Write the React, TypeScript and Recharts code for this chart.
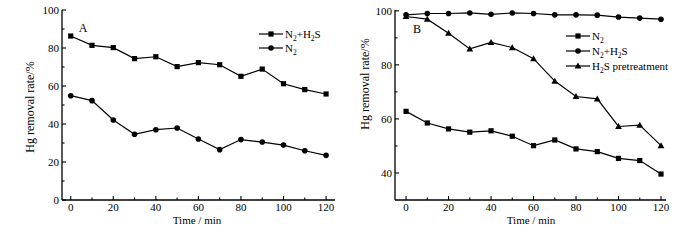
import React from "react"
import { LineChart, Line, XAxis, YAxis } from "recharts"

const TIMES = [0, 10, 20, 30, 40, 50, 60, 70, 80, 90, 100, 110, 120]

// panel A
const A_N2H2S = [86.3, 81.4, 80.2, 74.4, 75.4, 70.2, 72.3, 71.2, 65.1, 68.9, 61.2, 58.1, 55.8]
const A_N2 = [54.9, 52.3, 42.1, 34.6, 37.0, 37.9, 32.1, 26.5, 31.8, 30.5, 28.9, 25.9, 23.5]

// panel B
const B_N2 = [62.8, 58.5, 56.3, 55.1, 55.6, 53.6, 50.1, 52.2, 48.9, 47.9, 45.4, 44.6, 39.6]
const B_N2H2S = [98.5, 99.0, 99.0, 99.2, 98.7, 99.2, 99.0, 98.5, 98.5, 98.4, 97.7, 97.3, 96.9]
const B_PRE = [97.9, 96.9, 91.7, 85.9, 88.3, 86.4, 82.3, 74.0, 68.3, 67.4, 57.2, 57.7, 50.1]

const A_Y_TICKS = [0, 10, 20, 30, 40, 50, 60, 70, 80, 90, 100]
const B_Y_TICKS = [40, 50, 60, 70, 80, 90, 100]

const dataA = TIMES.map((t, i) => ({ t, a: A_N2H2S[i], b: A_N2[i] }))
const dataB = TIMES.map((t, i) => ({ t, a: B_N2[i], b: B_N2H2S[i], c: B_PRE[i] }))

const FONT = "'Liberation Serif', 'Times New Roman', serif"
const AXIS = { stroke: "#000", strokeWidth: 1.3 }
const TXT = { fontFamily: FONT, fill: "#000", stroke: "none", fontWeight: 400 }

function XTick(props: any) {
  const { x, y, payload } = props
  const v = payload.value
  const major = v % 20 === 0
  return (
    <g>
      <line x1={x} x2={x} y1={y} y2={y - (major ? 4 : 2.5)} stroke="#000" strokeWidth={1.1} />
      {major && (
        <text x={x} y={y + 11} textAnchor="middle" fontSize={11} {...TXT}>
          {v}
        </text>
      )}
    </g>
  )
}

function YTick(props: any) {
  const { x, y, payload } = props
  const v = payload.value
  const major = v % 20 === 0
  return (
    <g>
      <line x1={x} x2={x + (major ? 4 : 2.5)} y1={y} y2={y} stroke="#000" strokeWidth={1.1} />
      {major && (
        <text x={x - 3} y={y + 4} textAnchor="end" fontSize={11} {...TXT}>
          {v}
        </text>
      )}
    </g>
  )
}

const Square = (p: any) =>
  p.cx == null ? null : <rect x={p.cx - 2.6} y={p.cy - 2.6} width={5.2} height={5.2} fill="#000" stroke="none" />
const Circle = (p: any) =>
  p.cx == null ? null : <circle cx={p.cx} cy={p.cy} r={2.8} fill="#000" stroke="none" />
const Triangle = (p: any) =>
  p.cx == null ? null : (
    <polygon
      points={`${p.cx},${p.cy - 3.4} ${p.cx - 3.4},${p.cy + 2.6} ${p.cx + 3.4},${p.cy + 2.6}`}
      fill="#000"
      stroke="none"
    />
  )

function YTitle(cx: number, cy: number) {
  return () => (
    <text x={cx} y={cy} transform={`rotate(-90 ${cx} ${cy})`} textAnchor="middle" fontSize={12} {...TXT}>
      Hg removal rate/%
    </text>
  )
}

function XTitle(cx: number, cy: number) {
  return () => (
    <text x={cx} y={cy} textAnchor="middle" fontSize={11} {...TXT}>
      Time / min
    </text>
  )
}

function Sub({ parts }: { parts: (string | [string])[] }) {
  // plain strings are normal text, [s] is a subscript
  let low = false
  return (
    <>
      {parts.map((p, i) => {
        if (Array.isArray(p)) {
          const el = (
            <tspan key={i} fontSize={7.5} dy={low ? 0 : 3}>
              {p[0]}
            </tspan>
          )
          low = true
          return el
        }
        const el = (
          <tspan key={i} dy={low ? -3 : 0}>
            {p}
          </tspan>
        )
        low = false
        return el
      })}
    </>
  )
}

function LegendRow({ x, y, marker, parts }: { x: number; y: number; marker: string; parts: any[] }) {
  const mx = x + 12
  return (
    <g>
      <line x1={x} x2={x + 24} y1={y} y2={y} stroke="#000" strokeWidth={1.2} />
      {marker === "s" && <Square cx={mx} cy={y} />}
      {marker === "c" && <Circle cx={mx} cy={y} />}
      {marker === "t" && <Triangle cx={mx} cy={y} />}
      <text x={x + 26} y={y + 4} fontSize={11} {...TXT}>
        <Sub parts={parts} />
      </text>
    </g>
  )
}

export default function App() {
  return (
    <div style={{ position: "absolute", left: 0, top: 0, width: 700, height: 240, background: "#fff" }}>
      <div style={{ position: "absolute", left: 0, top: 0 }}>
        <LineChart width={350} height={240} data={dataA} margin={{ top: 10, right: 15, left: 0, bottom: 0 }}>
          <XAxis
            dataKey="t"
            type="number"
            domain={[-4.1, 124.2]}
            ticks={TIMES}
            interval={0}
            height={40}
            tickSize={0}
            tickMargin={0}
            tick={XTick}
            tickLine={false}
            axisLine={AXIS}
            label={{ content: XTitle(197, 224) }}
          />
          <XAxis xAxisId="top" dataKey="t" type="number" orientation="top" domain={[-4.1, 124.2]} height={0} tick={false} tickLine={false} axisLine={AXIS} />
          <YAxis
            type="number"
            domain={[0, 100]}
            ticks={A_Y_TICKS}
            interval={0}
            width={62}
            tickSize={0}
            tickMargin={0}
            tick={YTick}
            tickLine={false}
            axisLine={AXIS}
            label={{ content: YTitle(34, 107) }}
          />
          <YAxis yAxisId="right" orientation="right" width={0} tick={false} tickLine={false} axisLine={AXIS} />
          <Line dataKey="a" stroke="#000" strokeWidth={1.2} dot={Square} isAnimationActive={false} />
          <Line dataKey="b" stroke="#000" strokeWidth={1.2} dot={Circle} isAnimationActive={false} />
        </LineChart>
      </div>
      <div style={{ position: "absolute", left: 350, top: 0 }}>
        <LineChart width={350} height={240} data={dataB} margin={{ top: 10, right: 34, left: 0, bottom: 0 }}>
          <XAxis
            dataKey="t"
            type="number"
            domain={[-5.2, 122.35]}
            ticks={TIMES}
            interval={0}
            height={40}
            tickSize={0}
            tickMargin={0}
            tick={XTick}
            tickLine={false}
            axisLine={AXIS}
            label={{ content: XTitle(181, 224) }}
          />
          <XAxis xAxisId="top" dataKey="t" type="number" orientation="top" domain={[-5.2, 122.35]} height={0} tick={false} tickLine={false} axisLine={AXIS} />
          <YAxis
            type="number"
            domain={[30, 100.3]}
            ticks={B_Y_TICKS}
            interval={0}
            width={45}
            tickSize={0}
            tickMargin={0}
            tick={YTick}
            tickLine={false}
            axisLine={AXIS}
            label={{ content: YTitle(19, 84) }}
          />
          <YAxis yAxisId="right" orientation="right" width={0} tick={false} tickLine={false} axisLine={AXIS} />
          <Line dataKey="a" stroke="#000" strokeWidth={1.2} dot={Square} isAnimationActive={false} />
          <Line dataKey="b" stroke="#000" strokeWidth={1.2} dot={Circle} isAnimationActive={false} />
          <Line dataKey="c" stroke="#000" strokeWidth={1.2} dot={Triangle} isAnimationActive={false} />
        </LineChart>
      </div>
      <svg width={700} height={240} style={{ position: "absolute", left: 0, top: 0, pointerEvents: "none" }}>
        <text x={83} y={32} textAnchor="middle" fontSize={12} {...TXT}>A</text>
        <text x={417} y={33} textAnchor="middle" fontSize={12} {...TXT}>B</text>
        <LegendRow x={259} y={34} marker="s" parts={["N", ["2"], "+H", ["2"], "S"]} />
        <LegendRow x={259} y={48} marker="c" parts={["N", ["2"]]} />
        <LegendRow x={566} y={36} marker="s" parts={["N", ["2"]]} />
        <LegendRow x={566} y={51} marker="c" parts={["N", ["2"], "+H", ["2"], "S"]} />
        <LegendRow x={566} y={66} marker="t" parts={["H", ["2"], "S pretreatment"]} />
      </svg>
    </div>
  )
}
